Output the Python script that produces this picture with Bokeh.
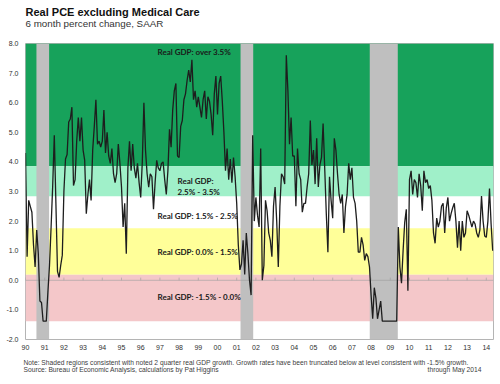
from bokeh.plotting import figure
from bokeh.models import FixedTicker, Label, NumeralTickFormatter, ColumnDataSource
from bokeh.embed import file_html
from bokeh.resources import INLINE

# ---------------- data ----------------
START_YEAR = 1990  # first month: Jan 1990, monthly through May 2014

pce_1990 = [4.3, 0.8, 2.7, 2.5, 2.3, 1.2, 0.45, 1.7, 0.9, -0.7, -0.75, -1.38]
pce_1991 = [-1.38, -1.38, -0.4, 0.5, 1.8, 3.2, 4.9, 2.6, 0.3, 0.1, 0.5, 0.85]
pce_1992 = [3.0, 4.1, 4.25, 5.35, 5.45, 5.85, 3.2, 3.4, 4.7, 5.5, 4.7, 5.5]
pce_1993 = [4.4, 4.05, 2.25, 2.9, 3.4, 2.7, 4.4, 5.2, 6.1, 4.6, 4.7, 4.5]
pce_1994 = [4.7, 5.75, 4.3, 5.0, 4.2, 3.95, 4.45, 3.6, 3.3, 3.6, 4.6, 3.95]
pce_1995 = [3.15, 1.8, 2.6, 0.9, 3.8, 4.7, 3.7, 4.6, 3.8, 3.45, 3.95, 3.3]
pce_1996 = [2.8, 4.0, 6.0, 4.4, 3.6, 3.15, 3.6, 3.5, 2.4, 3.3, 4.05, 3.8]
pce_1997 = [3.7, 3.95, 4.0, 3.4, 2.9, 3.7, 5.1, 4.5, 5.75, 6.4, 6.65, 4.2]
pce_1998 = [4.15, 5.2, 5.4, 6.1, 6.3, 6.75, 7.1, 6.7, 7.45, 6.1, 6.4, 5.85]
pce_1999 = [6.2, 5.85, 5.5, 6.1, 6.4, 5.45, 6.2, 6.05, 5.6, 4.9, 6.3, 6.9]
pce_2000 = [5.6, 6.65, 6.9, 6.05, 5.0, 3.7, 4.45, 3.4, 4.1, 3.3, 4.15, 3.5]
pce_2001 = [2.6, 1.2, 0.35, 0.55, 1.35, 0.2, 1.6, 0.9, 0.0, -0.5, 4.9, 2.0]
pce_2002 = [2.8, 2.2, 1.8, 4.45, 0.0, 0.5, 2.7, 2.35, 1.6, 1.35, 0.8, 2.5]
pce_2003 = [3.15, 2.0, 0.45, 2.5, 3.6, 3.5, 3.25, 7.6, 6.4, 4.6, 5.5, 4.2]
pce_2004 = [4.2, 2.5, 4.45, 3.6, 3.4, 2.3, 2.6, 2.6, 3.15, 3.6, 5.4, 3.9]
pce_2005 = [4.4, 3.25, 4.8, 3.15, 3.9, 4.15, 5.3, 3.8, 2.25, 0.95, 3.5, 2.7]
pce_2006 = [2.1, 4.8, 4.4, 3.6, 2.9, 2.6, 2.9, 1.6, 2.5, 2.9, 3.95, 3.4]
pce_2007 = [3.8, 2.8, 2.6, 2.0, 0.95, 0.95, 1.45, 1.2, 0.67, 0.9, 0.8, 0.45]
pce_2008 = [-0.5, -1.3, -0.25, -0.6, -1.3, -1.0, -0.7, -1.38, -1.38, -1.38, -1.38, -1.38]
pce_2009 = [-1.38, -1.38, -1.38, -1.38, -1.38, 1.8, 0.45, -0.1, 1.0, 1.95, 2.4, -0.35]
pce_2010 = [3.4, 3.7, 2.9, 3.4, 3.3, 2.8, 3.6, 3.2, 2.35, 3.7, 3.3, 3.4]
pce_2011 = [3.1, 3.2, 2.7, 1.6, 1.25, 2.1, 1.8, 2.0, 2.5, 2.6, 1.6, 2.45]
pce_2012 = [2.8, 2.0, 2.25, 2.45, 2.6, 2.0, 1.1, 2.0, 1.0, 2.0, 1.45, 1.6]
pce_2013 = [2.35, 2.2, 2.0, 1.8, 2.0, 1.9, 1.6, 1.45, 1.7, 2.85, 2.0, 1.5]
pce_2014 = [1.45, 2.0, 3.1, 1.9, 1.0]

YEARS = list(range(1990, 2015))
YEAR_LABELS = ["90", "91", "92", "93", "94", "95", "96", "97", "98", "99", "00",
               "01", "02", "03", "04", "05", "06", "07", "08", "09", "10", "11",
               "12", "13", "14"]
Y_TICKS = [-2, -1, 0, 1, 2, 3, 4, 5, 6, 7, 8]

BAND_LOW = [3.85, 2.83, 1.76, 0.19, -1.38]
BAND_HIGH = [8.0, 3.85, 2.83, 1.76, 0.19]
BAND_COLORS = ["#17A25B", "#A0F0C9", "#FFFFFF", "#FFFF99", "#F4C7C9"]

REC_START = [1990.57, 2001.2, 2007.93]
REC_END = [1991.23, 2001.86, 2009.39]

TITLE = "Real PCE excluding Medical Care"
SUBTITLE = "6 month percent change, SAAR"
NOTE = ("Note: Shaded regions consistent with noted 2 quarter real GDP growth. "
        "Growth rates have been truncated below at level consistent with -1.5% growth.")
SOURCE = "Source: Bureau of Economic Analysis, calculations by Pat Higgins"
THROUGH = "through May 2014"

# ---------------- build ----------------
values = (pce_1990 + pce_1991 + pce_1992 + pce_1993 + pce_1994 + pce_1995 + pce_1996
          + pce_1997 + pce_1998 + pce_1999 + pce_2000 + pce_2001 + pce_2002 + pce_2003
          + pce_2004 + pce_2005 + pce_2006 + pce_2007 + pce_2008 + pce_2009 + pce_2010
          + pce_2011 + pce_2012 + pce_2013 + pce_2014)
dates = [START_YEAR + i / 12.0 for i in range(len(values))]

X_MIN, X_MAX = 1990.0, 2014.375
Y_MIN, Y_MAX = -2.0, 8.0

p = figure(width=500, height=384, x_range=(X_MIN, X_MAX), y_range=(Y_MIN, Y_MAX),
           output_backend="svg", toolbar_location=None, title=None,
           min_border_left=25, min_border_right=7, min_border_top=43, min_border_bottom=45)
p.background_fill_color = "white"
p.border_fill_color = "white"
p.outline_line_color = "#B4B4B4"
p.outline_line_width = 1
p.xgrid.visible = False
p.ygrid.visible = False

band_src = ColumnDataSource(dict(left=[X_MIN] * len(BAND_LOW), right=[X_MAX] * len(BAND_LOW),
                                 bottom=BAND_LOW, top=BAND_HIGH, color=BAND_COLORS))
p.quad(left="left", right="right", bottom="bottom", top="top", fill_color="color",
       line_color=None, source=band_src)

rec_src = ColumnDataSource(dict(left=REC_START, right=REC_END,
                                bottom=[Y_MIN] * len(REC_START), top=[Y_MAX] * len(REC_START)))
p.quad(left="left", right="right", bottom="bottom", top="top", fill_color="#BFBFBF",
       line_color=None, source=rec_src)

# zero axis line with year tick marks
p.segment(x0=[X_MIN], y0=[0], x1=[X_MAX], y1=[0], line_color="#9C9C9C", line_alpha=0.6, line_width=1)
p.segment(x0=YEARS, y0=[0] * len(YEARS), x1=YEARS, y1=[0.09] * len(YEARS),
          line_color="#9C9C9C", line_alpha=0.6, line_width=1)

p.line(dates, values, line_color="#1E1E1E", line_width=1.3)

p.yaxis.ticker = FixedTicker(ticks=Y_TICKS)
p.yaxis.formatter = NumeralTickFormatter(format="0.0")
p.xaxis.ticker = FixedTicker(ticks=YEARS)
p.xaxis.major_label_overrides = {y: lab for y, lab in zip(YEARS, YEAR_LABELS)}
for ax in (p.xaxis, p.yaxis):
    ax.axis_line_color = None
    ax.major_tick_line_color = None
    ax.minor_tick_line_color = None
    ax.major_tick_out = 0
    ax.major_tick_in = 0
    ax.minor_tick_out = 0
    ax.minor_tick_in = 0
    ax.major_label_text_font = "Liberation Sans"
    ax.major_label_text_font_size = "7px"
    ax.major_label_text_color = "#303030"
p.yaxis.major_label_standoff = 7
p.xaxis.major_label_standoff = 5


def band_label(x, y, text):
    p.add_layout(Label(x=x, y=y, text=text, text_font="Lato", text_font_style="bold",
                       text_font_size="8px", text_color="#1A1A1A", text_baseline="middle"))


band_label(1996.875, 7.70, "Real GDP: over 3.5%")
band_label(1997.92, 3.34, "Real GDP:")
band_label(1997.92, 3.00, "2.5% - 3.5%")
band_label(1996.875, 2.16, "Real GDP: 1.5% - 2.5%")
band_label(1996.875, 0.97, "Real GDP: 0.0% - 1.5%")
band_label(1996.875, -0.55, "Real GDP: -1.5% - 0.0%")


# texts outside the frame live in the side panels (so they are not clipped to the frame)
def side_text(place, x, y, text, size, style="normal", color="#404040", align="left"):
    p.add_layout(Label(x=x, y=y, text=text, text_font="Liberation Sans", text_font_size=size,
                       text_font_style=style, text_color=color, text_baseline="middle",
                       text_align=align), place)


side_text("above", X_MIN, 9.074, TITLE, "11px", style="bold", color="#111111")
side_text("above", X_MIN, 8.669, SUBTITLE, "9.8px", color="#333333")
side_text("below", 1989.896, -2.770, NOTE, "6.7px")
side_text("below", 1989.896, -3.007, SOURCE, "6.7px")
side_text("below", 2013.75, -3.007, THROUGH, "6.7px", align="right")

open("out.html", "w").write(file_html(p, INLINE))
